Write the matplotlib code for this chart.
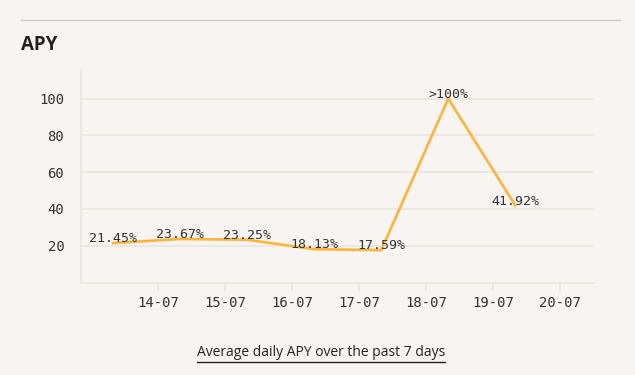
import matplotlib
matplotlib.use("Agg")
import matplotlib.pyplot as plt
import matplotlib.dates as mdates
from matplotlib.lines import Line2D
import pandas as pd

# daily APY readings (taken ~08:00 each day), last value capped at 100
days = pd.to_datetime(["2024-07-13 08:00", "2024-07-14 08:00", "2024-07-15 08:00",
                       "2024-07-16 08:00", "2024-07-17 08:00", "2024-07-18 08:00",
                       "2024-07-19 08:00"])
apy = [21.45, 23.67, 23.25, 18.13, 17.59, 100, 41.92]
point_labels = ["21.45%", "23.67%", "23.25%", "18.13%", "17.59%", ">100%", "41.92%"]
yticks = [20, 40, 60, 80, 100]
xticks = pd.to_datetime(["2024-07-14", "2024-07-15", "2024-07-16", "2024-07-17",
                         "2024-07-18", "2024-07-19", "2024-07-20"])

bg = "#f7f4f1"
grid_col = "#e9e5e1"
line_col = "#ffb338"
text_col = "#333333"
mono = "DejaVu Sans Mono"

fig = plt.figure(figsize=(6.35, 3.75), dpi=100, facecolor=bg)
ax = fig.add_axes([81 / 635, 1 - 282.5 / 375, 513 / 635, 212.5 / 375])
ax.set_facecolor(bg)

ax.plot(days, apy, color=line_col, lw=1.9, solid_joinstyle="miter", zorder=3)
for d, v, lab in zip(days, apy, point_labels):
    ax.annotate(lab, (d, v), xytext=(0, -1.5), textcoords="offset points",
                ha="center", va="bottom", fontsize=9.5, family=mono,
                color=text_col, zorder=4)

ax.set_ylim(0, 115.6)
ax.set_xlim(pd.Timestamp("2024-07-12 20:30"), pd.Timestamp("2024-07-20 12:10"))
ax.set_yticks(yticks)
ax.set_xticks(xticks)
ax.xaxis.set_major_formatter(mdates.DateFormatter("%d-%m"))

ax.grid(axis="y", color=grid_col, lw=1.2)
ax.set_axisbelow(True)
for s in ["top", "right"]:
    ax.spines[s].set_visible(False)
ax.spines["left"].set_color(grid_col)
ax.spines["left"].set_linewidth(1.2)
ax.spines["bottom"].set_color(grid_col)
ax.spines["bottom"].set_linewidth(1.2)

ax.tick_params(axis="y", length=0, pad=12, labelsize=10, labelcolor=text_col)
ax.tick_params(axis="x", length=6, width=1.2, color=grid_col, pad=4,
               labelsize=10, labelcolor=text_col)
for t in ax.get_xticklabels() + ax.get_yticklabels():
    t.set_family(mono)

# header rule and title
fig.add_artist(Line2D([21 / 635, 620 / 635], [1 - 20 / 375] * 2,
                      color="#cfcac6", lw=1))
fig.text(21 / 635, 1 - 45 / 375, "APY", fontsize=13.5, fontweight="bold",
         family="Open Sans", color="#222222", va="center", ha="left")

# caption with underline
cap = fig.text(321 / 635, 1 - 352 / 375, "Average daily APY over the past 7 days",
               fontsize=10, family="Open Sans", color="#222222",
               ha="center", va="center")
fig.canvas.draw()
bb = cap.get_window_extent().transformed(fig.transFigure.inverted())
fig.add_artist(Line2D([bb.x0, bb.x1], [1 - 362 / 375] * 2, color="#222222", lw=1))

fig.savefig("out.png", dpi=100, facecolor=bg)
